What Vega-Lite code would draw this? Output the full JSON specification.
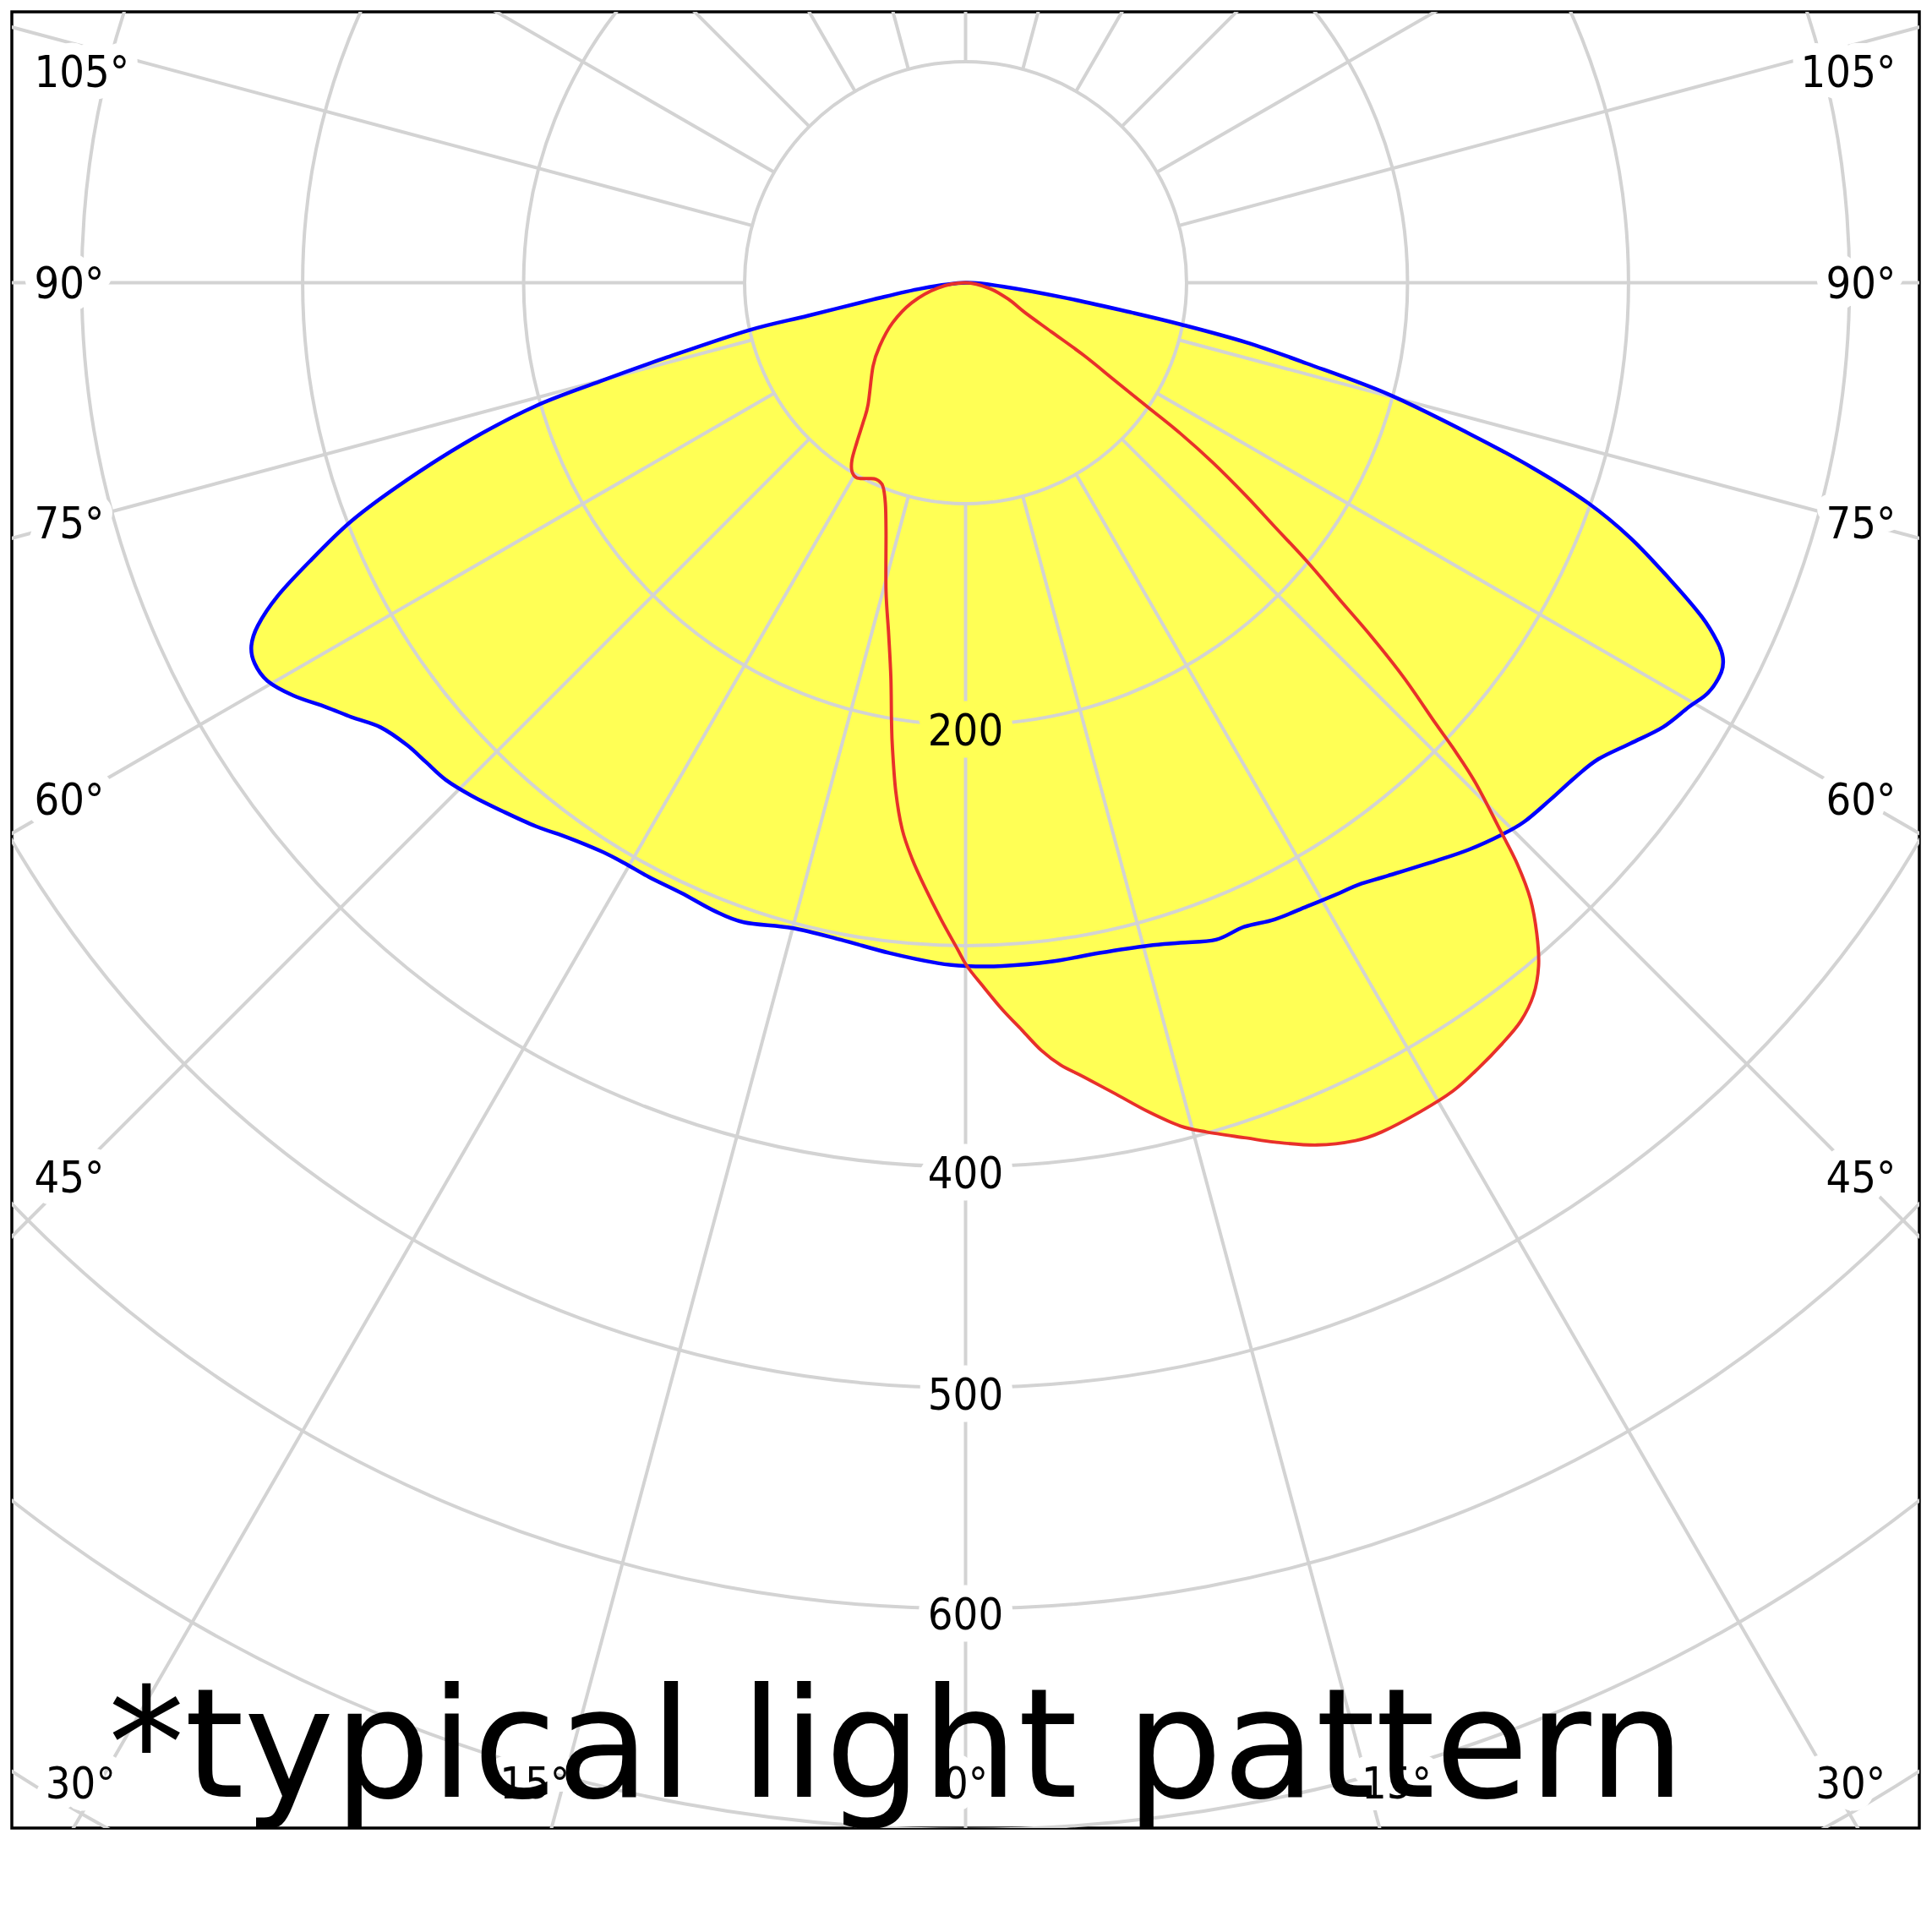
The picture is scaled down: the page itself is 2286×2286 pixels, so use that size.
{
  "$schema": "https://vega.github.io/schema/vega-lite/v6.json",
  "width": 2257,
  "height": 2149,
  "autosize": {"type": "none"},
  "padding": {"left": 14, "top": 14, "right": 15, "bottom": 123},
  "background": "white",
  "config": {"view": {"stroke": "#000000", "strokeWidth": 3.5}},
  "datasets": {
    "curves": [
      {"c":"C0-C180","i":0,"x":0,"y":0},{"c":"C0-C180","i":1,"x":-19.9,"y":2.6},{"c":"C0-C180","i":2,"x":-41.9,"y":7.6},{"c":"C0-C180","i":3,"x":-71.2,"y":14.9},{"c":"C0-C180","i":4,"x":-98.5,"y":21.6},{"c":"C0-C180","i":5,"x":-135.8,"y":34.0},{"c":"C0-C180","i":6,"x":-165.1,"y":44.5},{"c":"C0-C180","i":7,"x":-194.4,"y":55.7},{"c":"C0-C180","i":8,"x":-223.6,"y":70.8},{"c":"C0-C180","i":9,"x":-252.9,"y":89.3},{"c":"C0-C180","i":10,"x":-277.8,"y":107.7},{"c":"C0-C180","i":11,"x":-296.9,"y":126.2},{"c":"C0-C180","i":12,"x":-311.5,"y":142.0},{"c":"C0-C180","i":13,"x":-320.3,"y":155.2},{"c":"C0-C180","i":14,"x":-323.2,"y":164.4},{"c":"C0-C180","i":15,"x":-321.7,"y":172.3},{"c":"C0-C180","i":16,"x":-315.9,"y":180.2},{"c":"C0-C180","i":17,"x":-304.2,"y":186.8},{"c":"C0-C180","i":18,"x":-289.5,"y":192.0},{"c":"C0-C180","i":19,"x":-277.8,"y":196.6},{"c":"C0-C180","i":20,"x":-264.7,"y":201.2},{"c":"C0-C180","i":21,"x":-252.9,"y":209.1},{"c":"C0-C180","i":22,"x":-244.1,"y":217.0},{"c":"C0-C180","i":23,"x":-235.3,"y":224.9},{"c":"C0-C180","i":24,"x":-223.6,"y":232.1},{"c":"C0-C180","i":25,"x":-209.0,"y":239.4},{"c":"C0-C180","i":26,"x":-194.4,"y":246.0},{"c":"C0-C180","i":27,"x":-179.7,"y":251.2},{"c":"C0-C180","i":28,"x":-165.1,"y":257.2},{"c":"C0-C180","i":29,"x":-154.8,"y":262.4},{"c":"C0-C180","i":30,"x":-143.1,"y":269.0},{"c":"C0-C180","i":31,"x":-128.5,"y":276.2},{"c":"C0-C180","i":32,"x":-113.8,"y":284.2},{"c":"C0-C180","i":33,"x":-100.4,"y":289.4},{"c":"C0-C180","i":34,"x":-78.5,"y":292.0},{"c":"C0-C180","i":35,"x":-56.5,"y":297.3},{"c":"C0-C180","i":36,"x":-34.5,"y":303.3},{"c":"C0-C180","i":37,"x":-12.6,"y":307.9},{"c":"C0-C180","i":38,"x":0.2,"y":309.2},{"c":"C0-C180","i":39,"x":16.7,"y":309.2},{"c":"C0-C180","i":40,"x":38.7,"y":307.2},{"c":"C0-C180","i":41,"x":60.6,"y":303.3},{"c":"C0-C180","i":42,"x":82.6,"y":300.0},{"c":"C0-C180","i":43,"x":97.2,"y":298.7},{"c":"C0-C180","i":44,"x":113.3,"y":297.3},{"c":"C0-C180","i":45,"x":126.0,"y":291.5},{"c":"C0-C180","i":46,"x":139.9,"y":288.1},{"c":"C0-C180","i":47,"x":154.6,"y":282.2},{"c":"C0-C180","i":48,"x":169.2,"y":276.2},{"c":"C0-C180","i":49,"x":178.0,"y":272.3},{"c":"C0-C180","i":50,"x":191.2,"y":268.3},{"c":"C0-C180","i":51,"x":213.1,"y":261.5},{"c":"C0-C180","i":52,"x":227.8,"y":256.5},{"c":"C0-C180","i":53,"x":242.4,"y":249.9},{"c":"C0-C180","i":54,"x":252.7,"y":244.0},{"c":"C0-C180","i":55,"x":264.4,"y":234.1},{"c":"C0-C180","i":56,"x":276.1,"y":223.6},{"c":"C0-C180","i":57,"x":286.3,"y":215.6},{"c":"C0-C180","i":58,"x":301.0,"y":208.4},{"c":"C0-C180","i":59,"x":315.6,"y":201.1},{"c":"C0-C180","i":60,"x":327.3,"y":192.0},{"c":"C0-C180","i":61,"x":336.1,"y":185.5},{"c":"C0-C180","i":62,"x":342.0,"y":176.2},{"c":"C0-C180","i":63,"x":342.7,"y":169.7},{"c":"C0-C180","i":64,"x":340.5,"y":163.1},{"c":"C0-C180","i":65,"x":333.2,"y":151.2},{"c":"C0-C180","i":66,"x":318.6,"y":134.1},{"c":"C0-C180","i":67,"x":301.0,"y":115.6},{"c":"C0-C180","i":68,"x":281.9,"y":99.8},{"c":"C0-C180","i":69,"x":257.0,"y":84.0},{"c":"C0-C180","i":70,"x":227.8,"y":68.2},{"c":"C0-C180","i":71,"x":191.2,"y":50.4},{"c":"C0-C180","i":72,"x":154.6,"y":36.6},{"c":"C0-C180","i":73,"x":127.0,"y":27.0},{"c":"C0-C180","i":74,"x":97.2,"y":18.8},{"c":"C0-C180","i":75,"x":75.3,"y":13.5},{"c":"C0-C180","i":76,"x":46.0,"y":7.0},{"c":"C0-C180","i":77,"x":16.7,"y":1.7},
      {"c":"C90-C270","i":0,"x":0,"y":0},{"c":"C90-C270","i":1,"x":10.9,"y":2.6},{"c":"C90-C270","i":2,"x":19.6,"y":7.6},{"c":"C90-C270","i":3,"x":26.9,"y":13.5},{"c":"C90-C270","i":4,"x":38.7,"y":22.1},{"c":"C90-C270","i":5,"x":53.3,"y":32.7},{"c":"C90-C270","i":6,"x":67.9,"y":44.5},{"c":"C90-C270","i":7,"x":82.6,"y":56.4},{"c":"C90-C270","i":8,"x":97.2,"y":68.2},{"c":"C90-C270","i":9,"x":111.9,"y":81.4},{"c":"C90-C270","i":10,"x":127.0,"y":96.5},{"c":"C90-C270","i":11,"x":139.9,"y":110.4},{"c":"C90-C270","i":12,"x":154.6,"y":126.2},{"c":"C90-C270","i":13,"x":169.2,"y":143.3},{"c":"C90-C270","i":14,"x":183.9,"y":160.4},{"c":"C90-C270","i":15,"x":198.5,"y":178.9},{"c":"C90-C270","i":16,"x":212.4,"y":199.0},{"c":"C90-C270","i":17,"x":220.5,"y":210.4},{"c":"C90-C270","i":18,"x":230.7,"y":226.2},{"c":"C90-C270","i":19,"x":242.4,"y":248.6},{"c":"C90-C270","i":20,"x":249.7,"y":263.1},{"c":"C90-C270","i":21,"x":255.6,"y":278.9},{"c":"C90-C270","i":22,"x":258.5,"y":294.7},{"c":"C90-C270","i":23,"x":259.3,"y":309.2},{"c":"C90-C270","i":24,"x":257.0,"y":322.3},{"c":"C90-C270","i":25,"x":251.2,"y":334.2},{"c":"C90-C270","i":26,"x":242.4,"y":344.8},{"c":"C90-C270","i":27,"x":232.2,"y":355.3},{"c":"C90-C270","i":28,"x":220.5,"y":365.8},{"c":"C90-C270","i":29,"x":205.8,"y":375.1},{"c":"C90-C270","i":30,"x":188.3,"y":384.3},{"c":"C90-C270","i":31,"x":176.5,"y":388.2},{"c":"C90-C270","i":32,"x":159.0,"y":390.2},{"c":"C90-C270","i":33,"x":139.9,"y":388.9},{"c":"C90-C270","i":34,"x":127.0,"y":387.0},{"c":"C90-C270","i":35,"x":109.0,"y":384.3},{"c":"C90-C270","i":36,"x":97.2,"y":381.6},{"c":"C90-C270","i":37,"x":82.6,"y":375.1},{"c":"C90-C270","i":38,"x":67.9,"y":367.1},{"c":"C90-C270","i":39,"x":53.3,"y":359.3},{"c":"C90-C270","i":40,"x":43.0,"y":354.0},{"c":"C90-C270","i":41,"x":34.3,"y":347.4},{"c":"C90-C270","i":42,"x":25.5,"y":338.2},{"c":"C90-C270","i":43,"x":16.7,"y":329.0},{"c":"C90-C270","i":44,"x":7.9,"y":318.4},{"c":"C90-C270","i":45,"x":0.6,"y":309.2},{"c":"C90-C270","i":46,"x":-3.8,"y":301.3},{"c":"C90-C270","i":47,"x":-11.1,"y":288.1},{"c":"C90-C270","i":48,"x":-18.4,"y":273.6},{"c":"C90-C270","i":49,"x":-24.3,"y":260.4},{"c":"C90-C270","i":50,"x":-28.7,"y":247.3},{"c":"C90-C270","i":51,"x":-31.6,"y":230.1},{"c":"C90-C270","i":52,"x":-33.1,"y":210.4},{"c":"C90-C270","i":53,"x":-33.5,"y":199.0},{"c":"C90-C270","i":54,"x":-33.8,"y":178.9},{"c":"C90-C270","i":55,"x":-34.8,"y":159.1},{"c":"C90-C270","i":56,"x":-36.0,"y":139.4},{"c":"C90-C270","i":57,"x":-36.0,"y":113.0},{"c":"C90-C270","i":58,"x":-36.3,"y":99.8},{"c":"C90-C270","i":59,"x":-37.5,"y":91.9},{"c":"C90-C270","i":60,"x":-40.4,"y":89.0},{"c":"C90-C270","i":61,"x":-44.1,"y":88.6},{"c":"C90-C270","i":62,"x":-49.2,"y":88.3},{"c":"C90-C270","i":63,"x":-51.4,"y":85.4},{"c":"C90-C270","i":64,"x":-51.4,"y":80.1},{"c":"C90-C270","i":65,"x":-49.2,"y":72.2},{"c":"C90-C270","i":66,"x":-46.3,"y":63.0},{"c":"C90-C270","i":67,"x":-44.1,"y":55.0},{"c":"C90-C270","i":68,"x":-41.9,"y":37.9},{"c":"C90-C270","i":69,"x":-38.9,"y":28.7},{"c":"C90-C270","i":70,"x":-33.1,"y":18.2},{"c":"C90-C270","i":71,"x":-24.3,"y":9.0},{"c":"C90-C270","i":72,"x":-12.6,"y":2.4}
    ],
    "rings": [{"r":100},{"r":200},{"r":300},{"r":400},{"r":500},{"r":600},{"r":700},{"r":800},{"r":900}],
    "spokes": [{"a":0},{"a":15},{"a":30},{"a":45},{"a":60},{"a":75},{"a":90},{"a":105},{"a":120},{"a":135},{"a":150},{"a":165},{"a":180},{"a":195},{"a":210},{"a":225},{"a":240},{"a":255},{"a":270},{"a":285},{"a":300},{"a":315},{"a":330},{"a":345}],
    "labels": [
      {"g":"left","t":"105°","x":-421.5,"y":-88.4},
      {"g":"left","t":"90°","x":-421.5,"y":7.0},
      {"g":"left","t":"75°","x":-421.5,"y":115.5},
      {"g":"left","t":"60°","x":-421.5,"y":240.7},
      {"g":"left","t":"45°","x":-421.5,"y":411.8},
      {"g":"right","t":"105°","x":421.0,"y":-88.4},
      {"g":"right","t":"90°","x":421.0,"y":7.0},
      {"g":"right","t":"75°","x":421.0,"y":115.5},
      {"g":"right","t":"60°","x":421.0,"y":240.7},
      {"g":"right","t":"45°","x":421.0,"y":411.8},
      {"g":"mid","t":"30°","x":-400.5,"y":686.1},
      {"g":"mid","t":"15°","x":-195.0,"y":686.1},
      {"g":"mid","t":"0°","x":0,"y":686.1},
      {"g":"mid","t":"15°","x":195.0,"y":686.1},
      {"g":"mid","t":"30°","x":400.5,"y":686.1},
      {"g":"mid","t":"400","x":0,"y":409.9},
      {"g":"mid","t":"500","x":0,"y":509.8},
      {"g":"mid","t":"600","x":0,"y":609.6},
      {"g":"yel","t":"200","x":0,"y":209.5}
    ],
    "note": [{"t":"*typical light pattern","x":-387.9,"y":685.2}]
  },
  "layer": [
    {
      "data": {"name": "curves"},
      "mark": {"type": "line", "interpolate": "cardinal-closed", "fill": "#ffff55", "strokeOpacity": 0},
      "encoding": {
        "x": {"field": "x", "type": "quantitative", "scale": {"domain": [-431.6, 431.6], "nice": false, "zero": false}, "axis": null},
        "y": {"field": "y", "type": "quantitative", "scale": {"domain": [-122.6, 699.3], "nice": false, "zero": false, "reverse": true}, "axis": null},
        "detail": {"field": "c"},
        "order": {"field": "i", "type": "quantitative"}
      }
    },
    {
      "data": {"name": "rings"},
      "mark": {"type": "arc", "theta": 0, "theta2": 6.2832, "filled": false, "stroke": "#d3d3d3", "strokeWidth": 4, "clip": true},
      "encoding": {
        "x": {"datum": 0, "type": "quantitative", "scale": {"domain": [-431.6, 431.6], "nice": false, "zero": false}, "axis": null},
        "y": {"datum": 0, "type": "quantitative", "scale": {"domain": [-122.6, 699.3], "nice": false, "zero": false, "reverse": true}, "axis": null},
        "radius": {"field": "r", "type": "quantitative", "stack": null, "scale": {"type": "linear", "domain": [0, 1000], "range": [0, 2614.7], "zero": true, "nice": false}}
      }
    },
    {
      "data": {"name": "spokes"},
      "mark": {"type": "arc", "filled": false, "stroke": "#d3d3d3", "strokeWidth": 4, "clip": true},
      "encoding": {
        "x": {"datum": 0, "type": "quantitative", "scale": {"domain": [-431.6, 431.6], "nice": false, "zero": false}, "axis": null},
        "y": {"datum": 0, "type": "quantitative", "scale": {"domain": [-122.6, 699.3], "nice": false, "zero": false, "reverse": true}, "axis": null},
        "theta": {"field": "a", "type": "quantitative", "stack": null, "scale": {"type": "linear", "domain": [0, 360], "range": [0, 6.283185]}},
        "theta2": {"field": "a"},
        "radius": {"datum": 100, "type": "quantitative", "scale": {"type": "linear", "domain": [0, 1000], "range": [0, 2614.7], "zero": true, "nice": false}},
        "radius2": {"datum": 1000}
      }
    },
    {
      "data": {"name": "labels"},
      "transform": [{"filter": "datum.g === 'left'"}],
      "mark": {"type": "text", "align": "left", "baseline": "alphabetic", "font": "DejaVu Sans Condensed, DejaVu Sans", "fontSize": 52, "fill": "#ffffff", "stroke": "#ffffff", "strokeWidth": 28, "strokeJoin": "round"},
      "encoding": {
        "x": {"field": "x", "type": "quantitative", "scale": {"domain": [-431.6, 431.6], "nice": false, "zero": false}, "axis": null},
        "y": {"field": "y", "type": "quantitative", "scale": {"domain": [-122.6, 699.3], "nice": false, "zero": false, "reverse": true}, "axis": null},
        "text": {"field": "t"}
      }
    },
    {
      "data": {"name": "labels"},
      "transform": [{"filter": "datum.g === 'right'"}],
      "mark": {"type": "text", "align": "right", "baseline": "alphabetic", "font": "DejaVu Sans Condensed, DejaVu Sans", "fontSize": 52, "fill": "#ffffff", "stroke": "#ffffff", "strokeWidth": 28, "strokeJoin": "round"},
      "encoding": {
        "x": {"field": "x", "type": "quantitative", "scale": {"domain": [-431.6, 431.6], "nice": false, "zero": false}, "axis": null},
        "y": {"field": "y", "type": "quantitative", "scale": {"domain": [-122.6, 699.3], "nice": false, "zero": false, "reverse": true}, "axis": null},
        "text": {"field": "t"}
      }
    },
    {
      "data": {"name": "labels"},
      "transform": [{"filter": "datum.g === 'mid'"}],
      "mark": {"type": "text", "align": "center", "baseline": "alphabetic", "font": "DejaVu Sans Condensed, DejaVu Sans", "fontSize": 52, "fill": "#ffffff", "stroke": "#ffffff", "strokeWidth": 28, "strokeJoin": "round"},
      "encoding": {
        "x": {"field": "x", "type": "quantitative", "scale": {"domain": [-431.6, 431.6], "nice": false, "zero": false}, "axis": null},
        "y": {"field": "y", "type": "quantitative", "scale": {"domain": [-122.6, 699.3], "nice": false, "zero": false, "reverse": true}, "axis": null},
        "text": {"field": "t"}
      }
    },
    {
      "data": {"name": "labels"},
      "transform": [{"filter": "datum.g === 'yel'"}],
      "mark": {"type": "text", "align": "center", "baseline": "alphabetic", "font": "DejaVu Sans Condensed, DejaVu Sans", "fontSize": 52, "fill": "#ffff55", "stroke": "#ffff55", "strokeWidth": 28, "strokeJoin": "round"},
      "encoding": {
        "x": {"field": "x", "type": "quantitative", "scale": {"domain": [-431.6, 431.6], "nice": false, "zero": false}, "axis": null},
        "y": {"field": "y", "type": "quantitative", "scale": {"domain": [-122.6, 699.3], "nice": false, "zero": false, "reverse": true}, "axis": null},
        "text": {"field": "t"}
      }
    },
    {
      "data": {"name": "curves"},
      "mark": {"type": "line", "interpolate": "cardinal-closed"},
      "encoding": {
        "x": {"field": "x", "type": "quantitative", "scale": {"domain": [-431.6, 431.6], "nice": false, "zero": false}, "axis": null},
        "y": {"field": "y", "type": "quantitative", "scale": {"domain": [-122.6, 699.3], "nice": false, "zero": false, "reverse": true}, "axis": null},
        "color": {"field": "c", "type": "nominal", "scale": {"domain": ["C0-C180", "C90-C270"], "range": ["#0000ff", "#e8302a"]}, "legend": null},
        "strokeWidth": {"field": "c", "type": "nominal", "scale": {"domain": ["C0-C180", "C90-C270"], "range": [4.5, 3.9]}, "legend": null},
        "order": {"field": "i", "type": "quantitative"}
      }
    },
    {
      "data": {"name": "labels"},
      "transform": [{"filter": "datum.g === 'left'"}],
      "mark": {"type": "text", "align": "left", "baseline": "alphabetic", "font": "DejaVu Sans Condensed, DejaVu Sans", "fontSize": 52, "color": "#000000"},
      "encoding": {
        "x": {"field": "x", "type": "quantitative", "scale": {"domain": [-431.6, 431.6], "nice": false, "zero": false}, "axis": null},
        "y": {"field": "y", "type": "quantitative", "scale": {"domain": [-122.6, 699.3], "nice": false, "zero": false, "reverse": true}, "axis": null},
        "text": {"field": "t"}
      }
    },
    {
      "data": {"name": "labels"},
      "transform": [{"filter": "datum.g === 'right'"}],
      "mark": {"type": "text", "align": "right", "baseline": "alphabetic", "font": "DejaVu Sans Condensed, DejaVu Sans", "fontSize": 52, "color": "#000000"},
      "encoding": {
        "x": {"field": "x", "type": "quantitative", "scale": {"domain": [-431.6, 431.6], "nice": false, "zero": false}, "axis": null},
        "y": {"field": "y", "type": "quantitative", "scale": {"domain": [-122.6, 699.3], "nice": false, "zero": false, "reverse": true}, "axis": null},
        "text": {"field": "t"}
      }
    },
    {
      "data": {"name": "labels"},
      "transform": [{"filter": "datum.g === 'mid' || datum.g === 'yel'"}],
      "mark": {"type": "text", "align": "center", "baseline": "alphabetic", "font": "DejaVu Sans Condensed, DejaVu Sans", "fontSize": 52, "color": "#000000"},
      "encoding": {
        "x": {"field": "x", "type": "quantitative", "scale": {"domain": [-431.6, 431.6], "nice": false, "zero": false}, "axis": null},
        "y": {"field": "y", "type": "quantitative", "scale": {"domain": [-122.6, 699.3], "nice": false, "zero": false, "reverse": true}, "axis": null},
        "text": {"field": "t"}
      }
    },
    {
      "data": {"name": "note"},
      "mark": {"type": "text", "align": "left", "baseline": "alphabetic", "font": "DejaVu Sans", "fontSize": 180, "color": "#000000"},
      "encoding": {
        "x": {"field": "x", "type": "quantitative", "scale": {"domain": [-431.6, 431.6], "nice": false, "zero": false}, "axis": null},
        "y": {"field": "y", "type": "quantitative", "scale": {"domain": [-122.6, 699.3], "nice": false, "zero": false, "reverse": true}, "axis": null},
        "text": {"field": "t"}
      }
    }
  ]
}
